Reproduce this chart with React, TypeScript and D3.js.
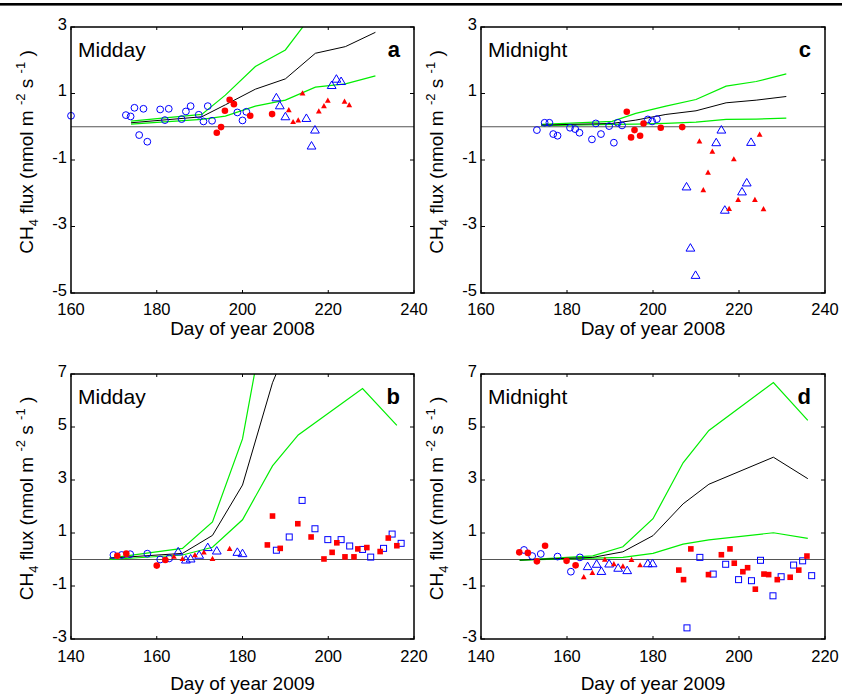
import React from "react";
import * as d3 from "d3";

// ---- data (day of year, CH4 flux) ----
const xTicks2008 = [160, 180, 200, 220, 240];
const xTicks2009 = [140, 160, 180, 200, 220];
const yTicksTop = [3, 1, -1, -3, -5];
const yTicksBottom = [7, 5, 3, 1, -1, -3];

const lineDays2008 = [174, 190.5, 196, 203, 210, 217, 224, 231];
const lineDays2009 = [149, 166, 173, 180, 187, 193, 208, 216];

// panel a (midday 2008)
const aBlack = [0.12, 0.3, 0.66, 1.13, 1.44, 2.21, 2.41, 2.84];
const aGreenHi = [0.17, 0.37, 0.95, 1.81, 2.31, 3.5];
const aGreenLo = [0.08, 0.22, 0.32, 0.62, 0.8, 1.19, 1.29, 1.53];
const aBlueCircles = [
  [160, 0.33], [172.8, 0.35], [173.9, 0.31], [174.8, 0.57], [176.9, 0.54],
  [175.9, -0.25], [177.8, -0.45], [180.8, 0.52], [182.8, 0.54], [181.9, 0.2],
  [185.8, 0.23], [186.8, 0.46], [187.9, 0.62], [189.8, 0.36], [190.9, 0.16],
  [191.9, 0.62], [192.9, 0.18], [198.8, 0.43], [200, 0.19], [200.9, 0.45],
];
const aRedCircles = [
  [194, -0.18], [195, -0.01], [195.9, 0.48], [197, 0.81], [198, 0.68],
  [201.8, 0.33], [206.9, 0.38],
];
const aBlueTriangles = [
  [207.9, 0.87], [208.7, 0.63], [210, 0.3], [214.9, 0.25], [216.9, -0.1],
  [216.1, -0.58], [220.8, 1.24], [221.9, 1.43], [223, 1.36],
];
const aRedTriangles = [
  [210.8, 0.5], [211.8, 0.14], [213, 0.19], [214, 1.0], [217.8, 0.46],
  [219, 0.62], [219.9, 0.78], [223.8, 0.75], [224.9, 0.65],
];

// panel c (midnight 2008)
const cBlack = [0.05, 0.1, 0.2, 0.37, 0.48, 0.72, 0.8, 0.91];
const cGreenHi = [0.07, 0.16, 0.4, 0.62, 0.82, 1.22, 1.36, 1.59];
const cGreenLo = [0.03, 0.07, 0.08, 0.1, 0.14, 0.22, 0.23, 0.26];
const cBlueCircles = [
  [173, -0.1], [174.8, 0.12], [175.9, 0.12], [176.8, -0.22], [177.8, -0.27],
  [180.7, -0.03], [181.9, -0.07], [182.9, -0.18], [185.8, -0.38], [186.7, 0.1],
  [187.9, -0.22], [189.8, 0.02], [190.9, -0.48], [191.8, 0.12], [192.8, 0.04],
  [198.8, 0.22], [199.8, 0.16], [200.9, 0.23],
];
const cRedCircles = [
  [193.9, 0.45], [194.9, -0.32], [195.7, -0.1], [197, -0.27], [197.8, 0.1],
  [201.8, -0.03], [206.8, -0.01],
];
const cBlueTriangles = [
  [215.9, -0.1], [214.7, -0.48], [222.8, -0.47], [207.8, -1.81], [208.7, -3.65],
  [209.9, -4.47], [216.7, -2.51], [220.7, -1.96], [221.8, -1.69],
];
const cRedTriangles = [
  [210.8, -0.44], [213.8, -0.75], [218.8, -0.98], [224.8, -0.24], [212.8, -1.38],
  [211.7, -1.91], [217.7, -2.47], [219.8, -2.2], [223.7, -2.2], [225.7, -2.48],
];

// panel b (midday 2009)
const bBlack = [0.05, 0.23, 0.91, 2.81, 6.67, 9.0];
const bGreenHi = [0.05, 0.42, 1.42, 4.55, 10.7];
const bGreenLo = [0.0, 0.17, 0.46, 1.5, 3.53, 4.7, 6.45, 5.06];
const bBlueCircles = [
  [149.9, 0.17], [151.8, 0.17], [153.8, 0.2], [157.8, 0.22], [160.8, 0.0], [162.9, 0.04],
];
const bRedCircles = [[150.8, 0.14], [152.9, 0.22], [160, -0.23], [162, -0.02]];
const bBlueTriangles = [
  [165, 0.29], [166.8, -0.02], [167.9, 0.02], [169.9, 0.16], [171.9, 0.45],
  [174, 0.32], [178.8, 0.27], [180, 0.22],
];
const bRedTriangles = [[164, 0.1], [166, 0.02], [168.9, 0.16], [171, 0.26], [173, 0.02], [177, 0.4]];
const bRedSquares = [
  [185.8, 0.55], [187, 1.64], [188.8, 0.42], [192.9, 1.35], [196, 0.85], [199, 0.02],
  [200.9, 0.27], [202, 0.63], [203.9, 0.1], [206, 0.1], [206.9, 0.4], [209, 0.45],
  [212.1, 0.3], [214, 0.81], [216, 0.52],
];
const bBlueSquares = [
  [187.9, 0.35], [190.9, 0.85], [193.9, 2.23], [196.9, 1.16], [199.9, 0.75],
  [203, 0.75], [205, 0.51], [208, 0.38], [209.9, 0.09], [212.9, 0.42], [214.9, 0.96],
  [217, 0.61],
];

// panel d (midnight 2009)
const dBlack = [-0.02, 0.08, 0.29, 0.9, 2.1, 2.84, 3.86, 3.05];
const dGreenHi = [-0.02, 0.14, 0.48, 1.54, 3.65, 4.87, 6.68, 5.25];
const dGreenLo = [-0.02, 0.05, 0.08, 0.23, 0.58, 0.74, 1.01, 0.8];
const dRedCircles = [[148.9, 0.27], [150.9, 0.25], [153, -0.07], [154.9, 0.52], [159.9, -0.05], [162, -0.22]];
const dBlueCircles = [[150, 0.36], [151.9, 0.13], [153.9, 0.21], [157.8, 0.11], [160.9, -0.46], [163, 0.08]];
const dBlueTriangles = [
  [164.8, -0.27], [166.9, -0.18], [168, -0.45], [169.8, -0.17], [171.9, -0.33],
  [174, -0.42], [178.8, -0.16], [179.9, -0.16],
];
const dRedTriangles = [
  [163.9, -0.67], [165.9, -0.51], [168.8, -0.01], [170.9, -0.18], [173, -0.26],
  [175, -0.02], [177, -0.22],
];
const dRedSquares = [
  [186, -0.4], [187.1, -0.76], [188.8, 0.4], [192.9, -0.57], [195.9, 0.18], [197.9, 0.4],
  [198.9, -0.14], [200.9, -0.46], [202, -0.31], [203.8, -1.12], [205.8, -0.55],
  [206.9, -0.57], [208.9, -0.76], [211.9, -0.67], [213.9, -0.4], [215.8, 0.13],
];
const dBlueSquares = [
  [187.9, -2.58], [190.9, 0.08], [194, -0.55], [196.9, -0.18], [199.9, -0.76],
  [202.9, -0.8], [205, -0.03], [207.9, -1.37], [209.8, -0.65], [212.7, -0.21],
  [214.8, -0.05], [216.9, -0.61],
];

const FONT = "'Liberation Sans', Arial, Helvetica, sans-serif";
const BLUE = "#0000ff";
const RED = "#ff0000";
const GREEN = "#00ee00";

type Pt = number[];

function Panel(props: any) {
  const { id, left, right, top, bottom, xDomain, yDomain, xTicks, yTicks, days,
    black, greenHi, greenLo, blueCircles = [], redCircles = [], blueTriangles = [],
    redTriangles = [], blueSquares = [], redSquares = [], title, letter, xLabel,
    tickBase, labelBase } = props;
  const x = d3.scaleLinear().domain(xDomain).range([left, right]);
  const y = d3.scaleLinear().domain(yDomain).range([bottom, top]);
  const line = (vals: number[]) =>
    d3.line<number>().x((_, i) => x(days[i])).y((v) => y(v))(vals) || "";
  const clip = `clip-${id}`;
  const midY = (top + bottom) / 2 - 8;

  return (
    <g>
      <defs>
        <clipPath id={clip}>
          <rect x={left} y={top} width={right - left} height={bottom - top} />
        </clipPath>
      </defs>
      <line x1={left} x2={right} y1={y(0)} y2={y(0)} stroke="#555" strokeWidth={1} />
      <g clipPath={`url(#${clip})`} fill="none">
        <path d={line(greenHi)} stroke={GREEN} strokeWidth={1.2} />
        <path d={line(greenLo)} stroke={GREEN} strokeWidth={1.2} />
        <path d={line(black)} stroke="#000" strokeWidth={1} />
      </g>
      {blueCircles.map((d: Pt, i: number) => (
        <circle key={"bc" + i} cx={x(d[0])} cy={y(d[1])} r={3.4} fill="none" stroke={BLUE} strokeWidth={1} />
      ))}
      {redCircles.map((d: Pt, i: number) => (
        <circle key={"rc" + i} cx={x(d[0])} cy={y(d[1])} r={3.3} fill={RED} />
      ))}
      {blueTriangles.map((d: Pt, i: number) => {
        const cx = x(d[0]), cy = y(d[1]);
        return (
          <path key={"bt" + i} d={`M${cx},${cy - 4.5}L${cx + 4.4},${cy + 3}L${cx - 4.4},${cy + 3}Z`}
            fill="none" stroke={BLUE} strokeWidth={1} />
        );
      })}
      {redTriangles.map((d: Pt, i: number) => {
        const cx = x(d[0]), cy = y(d[1]);
        return (
          <path key={"rt" + i} d={`M${cx},${cy - 3.2}L${cx + 2.9},${cy + 2}L${cx - 2.9},${cy + 2}Z`} fill={RED} />
        );
      })}
      {blueSquares.map((d: Pt, i: number) => (
        <rect key={"bs" + i} x={x(d[0]) - 3} y={y(d[1]) - 3} width={6} height={6} fill="none" stroke={BLUE} strokeWidth={1} />
      ))}
      {redSquares.map((d: Pt, i: number) => (
        <rect key={"rs" + i} x={x(d[0]) - 2.8} y={y(d[1]) - 2.8} width={5.6} height={5.6} fill={RED} />
      ))}

      {/* box and inward ticks */}
      <rect x={left} y={top} width={right - left} height={bottom - top} fill="none" stroke="#000" strokeWidth={1.5} />
      {xTicks.map((t: number) => (
        <g key={"xt" + t}>
          <line x1={x(t)} x2={x(t)} y1={bottom} y2={bottom - 3} stroke="#000" />
          <line x1={x(t)} x2={x(t)} y1={top} y2={top + 3} stroke="#000" />
          <text x={x(t)} y={bottom + tickBase} textAnchor="middle" fontSize={16.5}>{t}</text>
        </g>
      ))}
      {yTicks.map((t: number) => (
        <g key={"yt" + t}>
          <line x1={left} x2={left + 4} y1={y(t)} y2={y(t)} stroke="#000" />
          <line x1={right} x2={right - 4} y1={y(t)} y2={y(t)} stroke="#000" />
          <text x={left - 4} y={y(t) - 3} dy="0.35em" textAnchor="end" fontSize={16.5}>{t}</text>
        </g>
      ))}

      <text x={left + 7} y={top + 30} fontSize={21}>{title}</text>
      <text x={right - 14} y={top + 30} fontSize={22} fontWeight="bold" textAnchor="end">{letter}</text>
      <text x={(left + right) / 2} y={bottom + labelBase} textAnchor="middle" fontSize={19}>{xLabel}</text>
      <text transform={`translate(${left - 38},${midY}) rotate(-90)`} textAnchor="middle" fontSize={19}>
        CH<tspan dy={5} fontSize={13}>4</tspan>
        <tspan dy={-5}> flux (nmol m </tspan>
        <tspan dy={-8} fontSize={13}>-2</tspan>
        <tspan dy={8}> s </tspan>
        <tspan dy={-8} fontSize={13}>-1</tspan>
        <tspan dy={8}> )</tspan>
      </text>
    </g>
  );
}

export default function App() {
  const topRow = { top: 27, bottom: 293, xDomain: [160, 240], yDomain: [-5, 3], xTicks: xTicks2008,
    yTicks: yTicksTop, days: lineDays2008, xLabel: "Day of year 2008", tickBase: 21.5, labelBase: 42 };
  const botRow = { top: 374, bottom: 639, xDomain: [140, 220], yDomain: [-3, 7], xTicks: xTicks2009,
    yTicks: yTicksBottom, days: lineDays2009, xLabel: "Day of year 2009", tickBase: 23, labelBase: 51 };
  return (
    <svg width={842} height={697} style={{ display: "block", position: "absolute", left: 0, top: 0, background: "#fff" }}
      fontFamily={FONT}>
      <rect x={0} y={0} width={842} height={697} fill="#fff" />
      <rect x={0} y={3} width={842} height={2.6} fill="#000" />
      <Panel id="a" {...topRow} left={71} right={414} title="Midday" letter="a"
        black={aBlack} greenHi={aGreenHi} greenLo={aGreenLo} blueCircles={aBlueCircles}
        redCircles={aRedCircles} blueTriangles={aBlueTriangles} redTriangles={aRedTriangles} />
      <Panel id="c" {...topRow} left={481} right={825} title="Midnight" letter="c"
        black={cBlack} greenHi={cGreenHi} greenLo={cGreenLo} blueCircles={cBlueCircles}
        redCircles={cRedCircles} blueTriangles={cBlueTriangles} redTriangles={cRedTriangles} />
      <Panel id="b" {...botRow} left={71} right={414} title="Midday" letter="b"
        black={bBlack} greenHi={bGreenHi} greenLo={bGreenLo} blueCircles={bBlueCircles}
        redCircles={bRedCircles} blueTriangles={bBlueTriangles} redTriangles={bRedTriangles}
        blueSquares={bBlueSquares} redSquares={bRedSquares} />
      <Panel id="d" {...botRow} left={481} right={825} title="Midnight" letter="d"
        black={dBlack} greenHi={dGreenHi} greenLo={dGreenLo} blueCircles={dBlueCircles}
        redCircles={dRedCircles} blueTriangles={dBlueTriangles} redTriangles={dRedTriangles}
        blueSquares={dBlueSquares} redSquares={dRedSquares} />
    </svg>
  );
}
